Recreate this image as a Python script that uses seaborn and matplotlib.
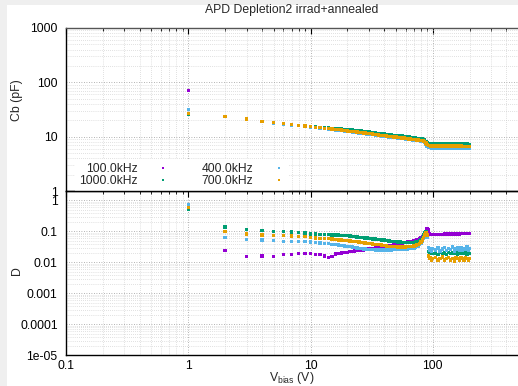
import numpy as np
import pandas as pd
import matplotlib
matplotlib.use("Agg")
import matplotlib.pyplot as plt
from matplotlib.lines import Line2D
from matplotlib.patches import Rectangle
from matplotlib.ticker import LogLocator, FuncFormatter, NullFormatter
import seaborn as sns

sns.set_theme(style="white")
plt.rcParams['font.family'] = ['Liberation Sans', 'DejaVu Sans']
plt.rcParams['mathtext.default'] = 'regular'

title = "APD Depletion2 irrad+annealed"
freqs = ["100.0kHz", "1000.0kHz", "400.0kHz", "700.0kHz"]
colors = {"100.0kHz": "#9400d3", "1000.0kHz": "#009e73",
          "400.0kHz": "#56b4e9", "700.0kHz": "#e69f00"}

vbias = [1, 2, 3, 4, 5, 6, 7, 8, 9, 10,
         11, 12, 13, 14, 15, 16, 17, 18, 19, 20,
         21, 22, 23, 24, 25, 26, 27, 28, 29, 30,
         32, 34, 36, 38, 40, 42, 44, 46, 48, 50,
         52, 54, 56, 58, 60, 62, 64, 66, 68, 70,
         72, 74, 76, 78, 80, 82, 84, 86, 88, 90,
         92, 94, 96, 98, 100,
         105, 110, 115, 120, 125, 130, 135, 140, 145, 150,
         155, 160, 165, 170, 175, 180, 185, 190, 195, 200]

cb_100 = [70, 23.4, 20.8, 19.0, 17.9, 17.2, 16.5, 16.0, 15.5, 15.1,
          14.7, 14.4, 14.1, 13.8, 13.6, 13.4, 13.2, 13.0, 12.8, 12.6,
          12.4, 12.25, 12.1, 11.9, 11.8, 11.65, 11.5, 11.4, 11.25, 11.15,
          10.95, 10.8, 10.6, 10.45, 10.3, 10.15, 10.0, 9.9, 9.75, 9.65,
          9.55, 9.45, 9.35, 9.25, 9.15, 9.05, 8.95, 8.9, 8.8, 8.75,
          8.7, 8.6, 8.55, 8.5, 8.4, 8.3, 8.2, 7.95, 7.4, 6.85,
          6.6, 6.52, 6.49, 6.47, 6.46,
          6.45, 6.45, 6.44, 6.44, 6.44, 6.43, 6.43, 6.43, 6.42, 6.42,
          6.42, 6.41, 6.41, 6.41, 6.40, 6.40, 6.40, 6.40, 6.39, 6.39]
cb_1000 = [26, 23.5, 20.9, 19.1, 18.0, 17.3, 16.7, 16.2, 15.7, 15.4,
           15.1, 14.8, 14.6, 14.4, 14.2, 14.1, 13.9, 13.8, 13.7, 13.55,
           13.4, 13.3, 13.15, 13.0, 12.85, 12.7, 12.55, 12.4, 12.3, 12.15,
           11.95, 11.75, 11.55, 11.35, 11.2, 11.05, 10.9, 10.75, 10.6, 10.5,
           10.4, 10.3, 10.2, 10.1, 10.0, 9.9, 9.8, 9.7, 9.6, 9.5,
           9.45, 9.35, 9.3, 9.2, 9.15, 9.05, 8.95, 8.75, 8.25, 7.7,
           7.45, 7.38, 7.36, 7.35, 7.34,
           7.33, 7.33, 7.32, 7.32, 7.31, 7.31, 7.30, 7.30, 7.30, 7.29,
           7.29, 7.29, 7.28, 7.28, 7.28, 7.27, 7.27, 7.27, 7.26, 7.26]
cb_400 = [32, 23.3, 20.7, 18.9, 17.8, 17.1, 16.4, 15.9, 15.4, 15.0,
          14.6, 14.3, 14.0, 13.7, 13.5, 13.3, 13.1, 12.9, 12.7, 12.5,
          12.3, 12.15, 12.0, 11.8, 11.7, 11.55, 11.4, 11.3, 11.15, 11.05,
          10.85, 10.7, 10.5, 10.35, 10.2, 10.05, 9.9, 9.8, 9.65, 9.55,
          9.45, 9.35, 9.25, 9.15, 9.05, 8.95, 8.85, 8.8, 8.7, 8.65,
          8.6, 8.5, 8.45, 8.4, 8.3, 8.2, 8.1, 7.85, 7.2, 6.6,
          6.35, 6.28, 6.24, 6.22, 6.2,
          6.2, 6.19, 6.19, 6.18, 6.18, 6.18, 6.17, 6.17, 6.17, 6.16,
          6.16, 6.16, 6.15, 6.15, 6.15, 6.15, 6.14, 6.14, 6.14, 6.14]
cb_700 = [27, 23.6, 21.0, 19.2, 18.1, 17.4, 16.7, 16.2, 15.7, 15.3,
          14.9, 14.6, 14.3, 14.0, 13.8, 13.6, 13.4, 13.2, 13.0, 12.8,
          12.6, 12.45, 12.3, 12.1, 12.0, 11.85, 11.7, 11.6, 11.45, 11.35,
          11.15, 10.95, 10.8, 10.6, 10.45, 10.3, 10.15, 10.05, 9.9, 9.8,
          9.7, 9.6, 9.5, 9.4, 9.3, 9.2, 9.1, 9.05, 8.95, 8.9,
          8.8, 8.75, 8.65, 8.6, 8.55, 8.45, 8.35, 8.1, 7.6, 7.1,
          6.85, 6.8, 6.75, 6.75, 6.74,
          6.73, 6.72, 6.72, 6.71, 6.71, 6.70, 6.70, 6.70, 6.69, 6.69,
          6.69, 6.68, 6.68, 6.68, 6.67, 6.67, 6.67, 6.66, 6.66, 6.66]

d_100 = [0.57, 0.024, 0.0157, 0.016, 0.0157, 0.018, 0.018, 0.0196, 0.0196, 0.0196,
         0.0178, 0.0178, 0.0161, 0.0146, 0.0157, 0.0187, 0.019, 0.020, 0.021, 0.021,
         0.022, 0.022, 0.023, 0.024, 0.024, 0.025, 0.025, 0.026, 0.026, 0.027,
         0.028, 0.029, 0.030, 0.031, 0.032, 0.033, 0.034, 0.035, 0.036, 0.038,
         0.039, 0.041, 0.042, 0.043, 0.044, 0.045, 0.046, 0.047, 0.048, 0.049,
         0.050, 0.052, 0.054, 0.057, 0.061, 0.066, 0.074, 0.084, 0.097, 0.118,
         0.110, 0.085, 0.080, 0.079, 0.079,
         0.079, 0.080, 0.080, 0.080, 0.081, 0.081, 0.081, 0.082, 0.082, 0.082,
         0.083, 0.083, 0.083, 0.084, 0.084, 0.084, 0.085, 0.085, 0.085, 0.086]
d_1000 = [0.51, 0.136, 0.117, 0.104, 0.099, 0.097, 0.094, 0.090, 0.087, 0.083,
          0.082, 0.079, 0.079, 0.079, 0.077, 0.075, 0.075, 0.074, 0.073, 0.072,
          0.071, 0.069, 0.067, 0.066, 0.064, 0.063, 0.062, 0.061, 0.060, 0.059,
          0.057, 0.056, 0.054, 0.053, 0.052, 0.050, 0.049, 0.048, 0.047, 0.046,
          0.045, 0.045, 0.044, 0.044, 0.043, 0.043, 0.043, 0.043, 0.043, 0.044,
          0.045, 0.046, 0.048, 0.051, 0.055, 0.062, 0.075, 0.090, 0.097, 0.080,
          0.022, 0.020, 0.019, 0.020, 0.019,
          0.020, 0.018, 0.021, 0.019, 0.020, 0.018, 0.021, 0.019, 0.020, 0.019,
          0.021, 0.018, 0.020, 0.019, 0.021, 0.019, 0.020, 0.018, 0.020, 0.019]
d_400 = [0.725, 0.062, 0.054, 0.053, 0.051, 0.048, 0.047, 0.046, 0.046, 0.045,
         0.0435, 0.042, 0.041, 0.040, 0.0375, 0.037, 0.036, 0.035, 0.034, 0.033,
         0.032, 0.031, 0.030, 0.029, 0.028, 0.028, 0.027, 0.027, 0.026, 0.026,
         0.026, 0.025, 0.025, 0.025, 0.025, 0.025, 0.025, 0.025, 0.026, 0.026,
         0.026, 0.027, 0.027, 0.026, 0.028, 0.027, 0.029, 0.028, 0.030, 0.029,
         0.031, 0.033, 0.034, 0.037, 0.041, 0.048, 0.058, 0.070, 0.079, 0.065,
         0.030, 0.024, 0.027, 0.023, 0.028,
         0.025, 0.029, 0.023, 0.027, 0.030, 0.024, 0.028, 0.026, 0.031, 0.023,
         0.027, 0.029, 0.025, 0.030, 0.024, 0.028, 0.026, 0.031, 0.025, 0.028]
d_700 = [0.59, 0.097, 0.083, 0.075, 0.073, 0.072, 0.070, 0.068, 0.067, 0.062,
         0.061, 0.059, 0.058, 0.058, 0.056, 0.054, 0.053, 0.052, 0.051, 0.050,
         0.049, 0.048, 0.047, 0.046, 0.045, 0.044, 0.043, 0.042, 0.041, 0.040,
         0.039, 0.038, 0.037, 0.036, 0.035, 0.034, 0.033, 0.033, 0.032, 0.032,
         0.031, 0.031, 0.031, 0.031, 0.031, 0.032, 0.032, 0.033, 0.033, 0.034,
         0.035, 0.036, 0.038, 0.041, 0.045, 0.052, 0.063, 0.078, 0.090, 0.075,
         0.016, 0.013, 0.014, 0.012, 0.013,
         0.014, 0.012, 0.013, 0.015, 0.012, 0.013, 0.014, 0.012, 0.013, 0.011,
         0.014, 0.013, 0.012, 0.014, 0.013, 0.012, 0.014, 0.013, 0.012, 0.013]

cb_series = {"100.0kHz": cb_100, "1000.0kHz": cb_1000, "400.0kHz": cb_400, "700.0kHz": cb_700}
d_series = {"100.0kHz": d_100, "1000.0kHz": d_1000, "400.0kHz": d_400, "700.0kHz": d_700}

rows = []
for f in freqs:
    for v, c, d in zip(vbias, cb_series[f], d_series[f]):
        rows.append({"V": v, "Cb": c, "D": d, "freq": f})
df = pd.DataFrame(rows)

W, H = 518, 386
fig = plt.figure(figsize=(W / 100, H / 100), dpi=100)
fig.patch.set_facecolor("#efefef")
bg = Rectangle((7 / W, 0), 1, 1 - 5 / H, transform=fig.transFigure,
               facecolor="white", edgecolor="none", zorder=-10)
fig.add_artist(bg)

left = 66 / W
width = (555 - 66) / W
ax1 = fig.add_axes([left, 1 - 191 / H, width, 163 / H])
ax2 = fig.add_axes([left, 1 - 355.3 / H, width, 164.3 / H])

for ax, col in ((ax1, "Cb"), (ax2, "D")):
    ax.set_facecolor("none")
    ax.set_zorder(1)
    sns.scatterplot(data=df, x="V", y=col, hue="freq", hue_order=freqs,
                    palette=colors, marker="s", s=6, linewidth=0,
                    legend=False, ax=ax, zorder=3)
    ax.set_xscale("log")
    ax.set_yscale("log")
    ax.set_xlim(0.1, 1000)
    ax.set_xlabel("")
    ax.set_ylabel("")
    ax.xaxis.set_major_locator(LogLocator(base=10, numticks=20))
    ax.xaxis.set_minor_locator(LogLocator(base=10, subs=np.arange(2, 10), numticks=20))
    ax.yaxis.set_major_locator(LogLocator(base=10, numticks=20))
    ax.yaxis.set_minor_locator(LogLocator(base=10, subs=np.arange(2, 10), numticks=20))
    ax.xaxis.set_minor_formatter(NullFormatter())
    ax.yaxis.set_minor_formatter(NullFormatter())
    ax.grid(True, which="major", color="#9a9a9a", linestyle=(0, (1, 2)), linewidth=0.6)
    ax.grid(True, which="minor", color="#c4c4c4", linestyle=(0, (1, 2)), linewidth=0.5)
    ax.tick_params(which="both", direction="in", top=True, right=True,
                   labelsize=8.7, colors="black", pad=6)
    ax.tick_params(axis="x", pad=3.5)
    ax.tick_params(which="major", length=4, width=0.8)
    ax.tick_params(which="minor", length=2.2, width=0.6)
    for s in ax.spines.values():
        s.set_color("black")
        s.set_linewidth(1.0)
ax1.spines["top"].set_color("#555555")

ax1.set_ylim(1, 1000)
ax2.set_ylim(1e-5, 2)


def fmt(v, pos):
    if v >= 1:
        return "%d" % round(v)
    if v < 1e-4 * 0.99:
        return "1e-05"
    return ("%.5f" % v).rstrip("0")


def xfmt(v, pos):
    if v > 500:
        return ""
    return fmt(v, pos)


ax1.yaxis.set_major_formatter(FuncFormatter(fmt))
ax2.yaxis.set_major_formatter(FuncFormatter(fmt))
ax2.xaxis.set_major_formatter(FuncFormatter(xfmt))
ax1.tick_params(labelbottom=False)

handles = [Line2D([], [], marker="s", linestyle="none", markersize=1.9,
                  markerfacecolor=colors[f], markeredgewidth=0) for f in freqs]
leg = ax1.legend(handles, freqs, ncol=2, loc="lower left",
                 bbox_to_anchor=(0.018, 0.0), markerfirst=False,
                 fontsize=8.7, frameon=True, framealpha=1, facecolor="white",
                 edgecolor="none", fancybox=False, borderpad=0.35,
                 handlelength=1.0, handletextpad=1.6, columnspacing=2.7,
                 labelspacing=-0.05, borderaxespad=0)
leg.set_zorder(5)

fig.text(292 / W, 1 - 10 / H, title, ha="center", va="center", fontsize=8.8)
fig.text(17 / W, 1 - 100 / H, "Cb (pF)", ha="center", va="center", rotation=90, fontsize=8.8)
fig.text(17 / W, 1 - 271 / H, "D", ha="center", va="center", rotation=90, fontsize=8.8)
fig.text(292 / W, 1 - 378.5 / H, r"V$_{bias}$ (V)", ha="center", va="center", fontsize=8.8)

fig.savefig("out.png", dpi=100, facecolor=fig.get_facecolor())
